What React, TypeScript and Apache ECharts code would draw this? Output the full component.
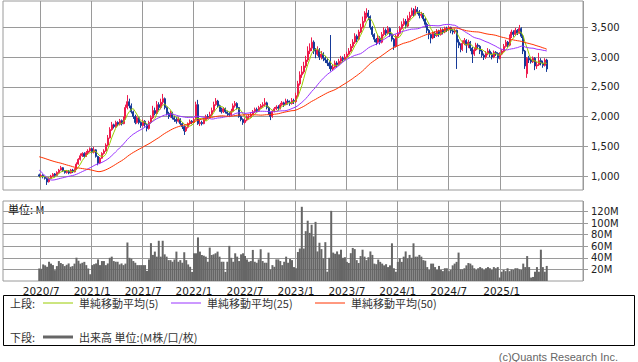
import React, { useEffect, useRef } from "react";
import * as echarts from "echarts";

// Weekly candles (k = 0 is the last week of June 2020)
const weekOpen = [
  1020, 995, 1010, 990, 960, 905, 960, 995, 1035, 1010,
  1055, 1100, 1140, 1090, 1060, 1085, 1050, 1100, 1070, 1110,
  1200, 1280, 1340, 1380, 1330, 1390, 1420, 1460, 1400, 1440,
  1330, 1220, 1300, 1380, 1420, 1520, 1640, 1780, 1860, 1830,
  1900, 1870, 1930, 1880, 1960, 2150, 2250, 2180, 2080, 2000,
  1900, 1980, 1900, 1850, 1920, 1870, 1800, 1900, 1980, 2100,
  2050, 2200, 2150, 2240, 2300, 2150, 2050, 2000, 2060, 1980,
  1950, 1920, 1960, 1880, 1830, 1760, 1820, 1880, 1920, 1900,
  1950, 2200, 1880, 1900, 1880, 1950, 2000, 1990, 2030, 2100,
  2200, 2260, 2180, 2120, 2080, 2130, 2080, 2050, 2030, 2090,
  2180, 2220, 2150, 2000, 1950, 1900, 1940, 1990, 2000, 2040,
  2080, 2120, 2100, 2150, 2180, 2200, 2230, 2150, 2060, 2000,
  2090, 2130, 2160, 2140, 2200, 2230, 2200, 2260, 2240, 2220,
  2270, 2250, 2350, 2550, 2700, 2750, 2850, 2950, 3100, 3150,
  3250, 3100, 3050, 3120, 3000, 3050, 2980, 2950, 2900, 2850,
  2800, 2830, 2900, 2870, 2930, 2980, 2960, 3000, 3050, 3100,
  3180, 3250, 3350, 3300, 3420, 3500, 3600, 3700, 3740, 3680,
  3500, 3380, 3300, 3250, 3320, 3250, 3380, 3450, 3400, 3480,
  3380, 3300, 3180, 3350, 3400, 3480, 3550, 3600, 3520, 3650,
  3700, 3780, 3720, 3800, 3760, 3700, 3720, 3640, 3550, 3450,
  3380, 3320, 3400, 3360, 3430, 3380, 3450, 3420, 3480, 3460,
  3500, 3440, 3420, 3450, 3250, 3200, 3130, 3230, 3280, 3200,
  3250, 3150, 3050, 3120, 3200, 3180, 3100, 3030, 3000, 3060,
  3100, 3050, 3000, 3080, 3060, 2980, 3050, 3100, 3180, 3250,
  3200, 3350, 3420, 3380, 3450, 3400, 3480, 3350, 3100, 2720,
  2980, 2950, 2920, 2980, 2850, 2870, 2940, 2900, 2860, 2950,
];
const weekClose = [
  1000, 1010, 990, 960, 900, 960, 1000, 1030, 1010, 1060,
  1100, 1140, 1090, 1060, 1080, 1050, 1100, 1070, 1110, 1200,
  1280, 1340, 1380, 1330, 1390, 1420, 1460, 1400, 1440, 1330,
  1220, 1300, 1380, 1420, 1520, 1640, 1780, 1860, 1830, 1900,
  1870, 1930, 1880, 1960, 2150, 2250, 2180, 2080, 2000, 1900,
  1980, 1900, 1850, 1920, 1870, 1800, 1900, 1980, 2100, 2050,
  2200, 2150, 2240, 2300, 2150, 2050, 2000, 2060, 1980, 1950,
  1920, 1960, 1880, 1830, 1760, 1820, 1880, 1920, 1900, 1950,
  2200, 1880, 1900, 1880, 1950, 2000, 1990, 2030, 2100, 2200,
  2260, 2180, 2120, 2080, 2130, 2080, 2050, 2030, 2090, 2180,
  2220, 2150, 2000, 1950, 1900, 1940, 1990, 2000, 2040, 2080,
  2120, 2100, 2150, 2180, 2200, 2230, 2150, 2060, 2000, 2090,
  2130, 2160, 2140, 2200, 2230, 2200, 2260, 2240, 2220, 2270,
  2250, 2350, 2550, 2700, 2750, 2850, 2950, 3100, 3150, 3250,
  3100, 3050, 3120, 3000, 3050, 2980, 2950, 2900, 2850, 2800,
  2830, 2900, 2870, 2930, 2980, 2960, 3000, 3050, 3100, 3180,
  3250, 3350, 3300, 3420, 3500, 3600, 3700, 3740, 3680, 3500,
  3380, 3300, 3250, 3320, 3250, 3380, 3450, 3400, 3480, 3380,
  3300, 3180, 3350, 3400, 3480, 3550, 3600, 3520, 3650, 3700,
  3780, 3720, 3800, 3760, 3700, 3720, 3640, 3550, 3450, 3380,
  3320, 3400, 3360, 3430, 3380, 3450, 3420, 3480, 3460, 3500,
  3440, 3420, 3450, 3250, 3200, 3130, 3230, 3280, 3200, 3250,
  3150, 3050, 3120, 3200, 3180, 3100, 3030, 3000, 3060, 3100,
  3050, 3000, 3080, 3060, 2980, 3050, 3100, 3180, 3250, 3200,
  3350, 3420, 3380, 3450, 3400, 3480, 3350, 3100, 2850, 2980,
  2950, 2920, 2980, 2850, 2870, 2940, 2900, 2860, 2950, 2800,
];
const weekLow = [
  980, 975, 960, 940, 850, 890, 950, 985, 990, 1000,
  1040, 1090, 1070, 1040, 1040, 1030, 1040, 1050, 1060, 1100,
  1190, 1260, 1320, 1310, 1320, 1370, 1400, 1380, 1380, 1310,
  1180, 1200, 1290, 1360, 1410, 1500, 1630, 1760, 1800, 1810,
  1840, 1850, 1850, 1870, 1950, 2120, 2140, 2050, 1960, 1870,
  1880, 1870, 1810, 1830, 1830, 1750, 1780, 1880, 1960, 2020,
  2030, 2100, 2120, 2200, 2120, 2020, 1960, 1980, 1950, 1910,
  1880, 1900, 1850, 1790, 1690, 1740, 1800, 1860, 1870, 1880,
  1940, 1860, 1840, 1850, 1870, 1930, 1960, 1970, 2010, 2080,
  2180, 2150, 2080, 2050, 2060, 2050, 2010, 1990, 2010, 2070,
  2150, 2120, 1980, 1920, 1860, 1880, 1920, 1950, 1980, 2020,
  2060, 2070, 2080, 2130, 2150, 2170, 2120, 2030, 1940, 1980,
  2070, 2110, 2100, 2120, 2180, 2160, 2190, 2200, 2180, 2200,
  2210, 2230, 2330, 2520, 2650, 2720, 2820, 2920, 3050, 3100,
  3050, 2980, 3020, 2950, 2960, 2930, 2900, 2850, 2800, 2760,
  2770, 2810, 2830, 2850, 2900, 2920, 2940, 2980, 3030, 3080,
  3150, 3220, 3250, 3280, 3400, 3480, 3580, 3650, 3620, 3460,
  3340, 3250, 3200, 3220, 3210, 3230, 3350, 3360, 3380, 3340,
  3260, 3120, 3160, 3320, 3380, 3460, 3520, 3480, 3500, 3620,
  3680, 3680, 3700, 3720, 3650, 3660, 3600, 3500, 3400, 3300,
  3230, 3300, 3320, 3340, 3340, 3360, 3380, 3400, 3420, 3440,
  3400, 3380, 3390, 2800, 3150, 3080, 3100, 3200, 3070, 3150,
  3100, 2900, 3020, 3100, 3130, 3050, 2990, 2950, 2970, 3030,
  3000, 2960, 2980, 3020, 2900, 2960, 3030, 3080, 3160, 3160,
  3180, 3320, 3340, 3360, 3370, 3390, 3320, 3050, 2800, 2650,
  2900, 2890, 2900, 2780, 2800, 2850, 2860, 2820, 2840, 2750,
];
const weekHigh = [
  1040, 1030, 1030, 1000, 970, 980, 1020, 1050, 1050, 1080,
  1120, 1170, 1150, 1100, 1100, 1100, 1120, 1120, 1130, 1230,
  1300, 1380, 1400, 1400, 1420, 1450, 1480, 1470, 1490, 1450,
  1340, 1320, 1400, 1450, 1550, 1690, 1820, 1910, 1880, 1930,
  1920, 1960, 1950, 2000, 2200, 2360, 2300, 2220, 2100, 2030,
  2010, 2000, 1920, 1950, 1940, 1880, 1930, 2020, 2180, 2150,
  2260, 2240, 2300, 2380, 2320, 2170, 2080, 2100, 2080, 2010,
  1990, 1990, 1970, 1900, 1850, 1840, 1900, 1950, 1940, 1980,
  2250, 2280, 1950, 1930, 1980, 2030, 2040, 2080, 2150, 2250,
  2310, 2280, 2200, 2150, 2160, 2150, 2100, 2080, 2130, 2220,
  2260, 2240, 2160, 2020, 1970, 1970, 2020, 2040, 2070, 2110,
  2150, 2150, 2180, 2210, 2240, 2310, 2250, 2170, 2080, 2110,
  2160, 2190, 2190, 2230, 2260, 2250, 2300, 2290, 2270, 2310,
  2300, 2400, 2600, 2760, 2850, 2920, 3020, 3180, 3230, 3330,
  3280, 3150, 3180, 3150, 3100, 3080, 3020, 2980, 2930, 3370,
  2880, 2940, 2930, 2970, 3020, 3010, 3050, 3090, 3150, 3220,
  3300, 3400, 3380, 3460, 3560, 3680, 3770, 3820, 3790, 3700,
  3520, 3400, 3320, 3370, 3350, 3420, 3500, 3480, 3520, 3500,
  3400, 3320, 3380, 3450, 3520, 3600, 3650, 3640, 3700, 3760,
  3830, 3820, 3860, 3840, 3790, 3760, 3740, 3660, 3580, 3470,
  3400, 3430, 3430, 3470, 3460, 3490, 3480, 3510, 3510, 3520,
  3510, 3470, 3480, 3460, 3300, 3230, 3280, 3320, 3300, 3290,
  3270, 3170, 3160, 3240, 3230, 3200, 3120, 3060, 3100, 3150,
  3130, 3080, 3110, 3100, 3080, 3080, 3130, 3220, 3290, 3270,
  3380, 3460, 3450, 3490, 3470, 3540, 3500, 3380, 3120, 3000,
  3020, 2990, 3010, 3000, 2920, 3070, 2980, 2940, 2980, 2970,
];
// Weekly volume, millions of shares
const weekVolume = [
  21.6, 21, 28.6, 27, 24.5, 33.2, 30, 27.4, 18.7, 25.7,
  34.4, 31, 29.2, 25.7, 28, 30.3, 24.5, 25.7, 30, 40.2,
  35, 30, 31.5, 33, 27.4, 21.6, 11.7, 27.4, 29, 30.3,
  37.3, 27.4, 34.4, 34.4, 27.4, 30.3, 40, 42, 34.4, 33.2,
  33.2, 28.6, 30.3, 27.4, 30, 66.5, 40, 38.5, 34.4, 31.5,
  27.4, 27.4, 27.4, 27.4, 27.4, 17.5, 37.3, 65.3, 45, 50.7,
  42, 69.4, 42, 69.4, 46, 42, 36, 36, 33.2, 37.3,
  50.7, 33.2, 36, 31.5, 49.6, 36, 28.6, 24.5, 15.7, 47.8,
  47.8, 75.2, 50.7, 44.9, 43.7, 42, 33.2, 57.7, 44.9, 46,
  47.8, 50.7, 42, 33.2, 33.2, 15.7, 33.2, 60.6, 40, 33.2,
  47.8, 42, 34.4, 46, 47.8, 43.1, 37.3, 33.2, 34.4, 53.6,
  33.2, 31.5, 37.3, 54.8, 34.4, 31.5, 31.5, 49, 19.8, 27.4,
  24.5, 37.3, 37.3, 34.4, 27.4, 33.2, 42, 31.5, 38, 36,
  24, 22, 50, 56, 128, 56, 86, 104, 83, 97,
  77, 102, 51, 66, 55, 39, 67, 16, 40, 121,
  49, 47, 51, 46, 54, 40, 41, 33, 31, 48,
  57, 55, 36, 31, 43, 54, 42, 36, 41, 51,
  45, 30, 29, 37, 33, 30, 27, 29, 24, 27,
  65, 22, 16, 33, 39, 33, 42, 51, 39, 45,
  40, 65, 42, 42, 45, 42, 36, 35, 24, 19,
  30, 30, 24, 19, 26, 19, 17, 22, 22, 17,
  19, 27, 30, 33, 49, 20, 20, 22, 27, 31,
  30, 27, 22, 19, 22, 24, 22, 19, 22, 24,
  22, 19, 24, 22, 24, 6, 16, 19, 17, 22,
  17, 20, 19, 22, 22, 20, 19, 30, 24, 43,
  24, 6, 7, 16, 24, 16, 54, 24, 16, 26,
];
// Closes of the 49 weeks before the first visible week (feed the moving averages)
const priorClose = [
  1450, 1480, 1500, 1470, 1520, 1550, 1530, 1500, 1480, 1510,
  1540, 1560, 1580, 1550, 1530, 1560, 1590, 1600, 1570, 1550,
  1580, 1610, 1620, 1600, 1650, 1760, 1800, 1820, 1750, 1550,
  1300, 1050, 900, 850, 880, 920, 900, 880, 850, 870,
  900, 920, 880, 900, 930, 950, 980, 960, 990,
];
const xTickLabels = ["2020/7", "2021/1", "2021/7", "2022/1", "2022/7", "2023/1", "2023/7", "2024/1", "2024/7", "2025/1"];
const priceTicks = [1000, 1500, 2000, 2500, 3000, 3500];
const volumeTicks = [20, 40, 60, 80, 100, 120];
const maPeriods = [5, 25, 50];
const maColors = ["#99cc00", "#9933ff", "#ff3300"];
const maNames = ["単純移動平均(5)", "単純移動平均(25)", "単純移動平均(50)"];

const AXIS_START = Date.UTC(2020, 1, 24); // first (empty) weekly slot on the axis
const SLOT_COUNT = 296;
const LEAD = 18; // empty weekly slots before the first candle

function buildCategories() {
  const cats: string[] = [];
  const ym: string[] = [];
  for (let i = 0; i < SLOT_COUNT; i++) {
    const d = new Date(AXIS_START + i * 7 * 86400000);
    const y = d.getUTCFullYear();
    const m = d.getUTCMonth() + 1;
    cats.push(`${y}/${m}/${d.getUTCDate()}`);
    ym.push(`${y}/${m}`);
  }
  const boundary = ym.map((s, i) => xTickLabels.includes(s) && (i === 0 || ym[i - 1] !== s));
  return { cats, ym, boundary };
}

function movingAverage(n: number) {
  const all = priorClose.concat(weekClose);
  const off = priorClose.length;
  return weekClose.map((_, k) => {
    let s = 0;
    for (let j = off + k - n + 1; j <= off + k; j++) s += all[j];
    return [k + LEAD, Math.round((s / n) * 10) / 10];
  });
}

export default function App() {
  const ref = useRef<HTMLDivElement>(null);
  useEffect(() => {
    if (!ref.current) return;
    const chart = echarts.init(ref.current, undefined, { renderer: "svg" });
    const { cats, ym, boundary } = buildCategories();
    const numFont = "DejaVu Sans";
    const jpFont = "Noto Sans CJK JP";
    const gridColor = "#9a9a9a";

    const candleData = weekClose.map((c, k) => [k + LEAD, weekOpen[k], c, weekLow[k], weekHigh[k]]);
    const volData = weekVolume.map((v, k) => [k + LEAD, v]);

    const legendY1 = 303;
    const legendY2 = 337;
    const graphic: any[] = [
      { type: "rect", shape: { x: 3.5, y: 295.5, width: 631, height: 50 }, style: { fill: "none", stroke: "#000", lineWidth: 1 } },
      { type: "text", x: 10, y: legendY1, style: { text: "上段:", font: `11px "${jpFont}"`, fill: "#333", verticalAlign: "middle" } },
      { type: "text", x: 10, y: legendY2, style: { text: "下段:", font: `11px "${jpFont}"`, fill: "#333", verticalAlign: "middle" } },
      { type: "line", shape: { x1: 43, y1: legendY2, x2: 73, y2: legendY2 }, style: { stroke: "#666", lineWidth: 3 } },
      { type: "text", x: 79, y: legendY2, style: { text: "出来高 単位:(M株/口/枚)", font: `11px "${jpFont}"`, fill: "#333", verticalAlign: "middle" } },
      { type: "text", x: 8, y: 209, style: { text: "単位: M", font: `11px "${jpFont}"`, fill: "#111", verticalAlign: "middle" } },
      { type: "text", x: 618, y: 357, style: { text: "(c)Quants Research Inc.", font: `11px "Liberation Sans"`, fill: "#666", align: "right", verticalAlign: "middle" } },
    ];
    const legendX = [43, 171, 315];
    maNames.forEach((name, i) => {
      graphic.push({ type: "line", shape: { x1: legendX[i], y1: legendY1, x2: legendX[i] + 30, y2: legendY1 }, style: { stroke: maColors[i], lineWidth: 1 } });
      graphic.push({ type: "text", x: legendX[i] + 36, y: legendY1, style: { text: name, font: `11px "${jpFont}"`, fill: "#333", verticalAlign: "middle" } });
    });

    const splitLineX = { show: true, interval: (i: number) => boundary[i], lineStyle: { color: gridColor, width: 1 } };

    chart.setOption({
      animation: false,
      backgroundColor: "#fff",
      grid: [
        { left: 3, top: 1, width: 580, height: 189, show: true, borderColor: gridColor, borderWidth: 1, backgroundColor: "#fff" },
        { left: 3, top: 201, width: 580, height: 80, show: true, borderColor: gridColor, borderWidth: 1, backgroundColor: "#fff" },
      ],
      xAxis: [
        {
          type: "category", gridIndex: 0, data: cats, boundaryGap: true,
          axisLine: { show: false }, axisTick: { show: false }, axisLabel: { show: false },
          splitLine: splitLineX,
        },
        {
          type: "category", gridIndex: 1, data: cats, boundaryGap: true,
          axisLine: { show: false }, axisTick: { show: false },
          axisLabel: {
            show: true, interval: (i: number) => boundary[i],
            formatter: (_v: string, i: number) => ym[i],
            fontFamily: numFont, fontSize: 10.5, color: "#222", margin: 4,
          },
          splitLine: splitLineX,
        },
      ],
      yAxis: [
        {
          type: "value", gridIndex: 0, position: "right", min: 765, max: 3942, scale: true,
          axisLine: { show: false },
          axisTick: { show: true, length: 5, customValues: priceTicks, lineStyle: { color: gridColor } },
          axisLabel: {
            customValues: priceTicks, formatter: (v: number) => v.toLocaleString("en-US"),
            fontFamily: numFont, fontSize: 10, color: "#222", margin: 8,
          },
          splitLine: { show: true, lineStyle: { color: gridColor } },
        },
        {
          type: "value", gridIndex: 1, position: "right", min: 0, max: 138, interval: 20,
          axisLine: { show: false },
          axisTick: { show: true, length: 5, customValues: volumeTicks, lineStyle: { color: gridColor } },
          axisLabel: {
            customValues: volumeTicks, formatter: (v: number) => `${v}M`,
            fontFamily: numFont, fontSize: 10, color: "#222", margin: 8,
          },
          splitLine: { show: true, lineStyle: { color: gridColor } },
        },
      ],
      series: [
        {
          type: "candlestick", xAxisIndex: 0, yAxisIndex: 0, data: candleData,
          encode: { x: 0, y: [1, 2, 3, 4] },
          barWidth: 1.5,
          itemStyle: { color: "#ee1a4c", color0: "#163a98", borderColor: "#ee1a4c", borderColor0: "#163a98", borderWidth: 1 },
          z: 2,
        },
        ...maPeriods.map((n, i) => ({
          type: "line", name: maNames[i], xAxisIndex: 0, yAxisIndex: 0,
          data: movingAverage(n), showSymbol: false, symbol: "none",
          lineStyle: { color: maColors[i], width: 1 }, z: 3,
        })),
        {
          type: "bar", xAxisIndex: 1, yAxisIndex: 1, data: volData, barWidth: 2,
          itemStyle: { color: "#666666" },
        },
      ],
      graphic,
    });
    return () => chart.dispose();
  }, []);
  return <div ref={ref} style={{ position: "absolute", left: 0, top: 0, width: 638, height: 362 }} />;
}
